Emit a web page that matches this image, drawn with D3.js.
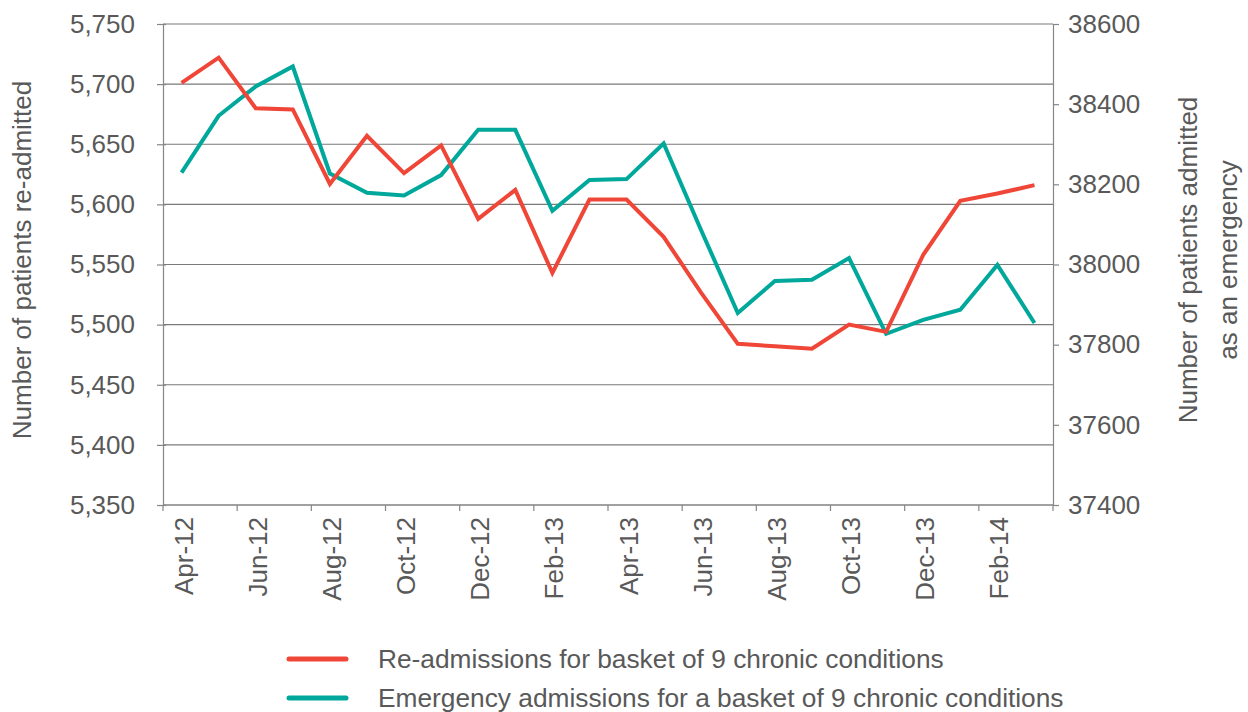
<!DOCTYPE html>
<html>
<head>
<meta charset="utf-8">
<script src="https://cdn.jsdelivr.net/npm/d3@7"></script>
<style>
  body { margin: 0; background: #fff; }
  text { font-family: "Liberation Sans", Arial, sans-serif; fill: #595959; }
</style>
</head>
<body>
<div id="chart"></div>
<script>
var months = ["Apr-12","May-12","Jun-12","Jul-12","Aug-12","Sep-12","Oct-12","Nov-12","Dec-12","Jan-13","Feb-13","Mar-13",
              "Apr-13","May-13","Jun-13","Jul-13","Aug-13","Sep-13","Oct-13","Nov-13","Dec-13","Jan-14","Feb-14","Mar-14"];
var readmissions = [5701,5722,5680,5679,5617,5657,5626,5649,5588,5612,5543,5604,
                    5604,5573,5527,5484,5482,5480,5500,5494,5558,5603,5609,5616];
var emergency = [38229,38371,38444,38494,38227,38179,38172,38223,38336,38336,38134,38211,
                 38213,38302,38088,37879,37959,37962,38016,37827,37862,37887,37999,37854];
var leftTicks = [5350,5400,5450,5500,5550,5600,5650,5700,5750];
var rightTicks = [37400,37600,37800,38000,38200,38400,38600];
var seriesNames = ["Re-admissions for basket of 9 chronic conditions",
                   "Emergency admissions for a basket of 9 chronic conditions"];
var RED = "#ef4638", TEAL = "#00a79b";
var FONT = "26px";

var W = 1248, H = 712;
var plotLeft = 163, plotRight = 1053, plotTop = 24, plotBottom = 505;

var svg = d3.select("#chart").append("svg").attr("width", W).attr("height", H);

var x = d3.scaleBand().domain(months).range([plotLeft, plotRight]);
var yL = d3.scaleLinear().domain([5350, 5750]).range([plotBottom, plotTop]);
var yR = d3.scaleLinear().domain([37400, 38600]).range([plotBottom, plotTop]);

// gridlines
svg.append("g").selectAll("line").data(leftTicks).enter().append("line")
  .attr("x1", plotLeft).attr("x2", plotRight)
  .attr("y1", function(d){ return yL(d); }).attr("y2", function(d){ return yL(d); })
  .attr("stroke", "#7a7a7a").attr("stroke-width", 1.2);

// left axis (ticks cross the axis line)
var gl = svg.append("g").attr("transform", "translate(" + plotLeft + ",0)")
  .call(d3.axisLeft(yL).tickValues(leftTicks).tickFormat(d3.format(",")).tickSize(6).tickPadding(22));
gl.selectAll(".tick line").attr("x1", 3);
// right axis
var gr = svg.append("g").attr("transform", "translate(" + plotRight + ",0)")
  .call(d3.axisRight(yR).tickValues(rightTicks).tickFormat(d3.format("d")).tickSize(6).tickPadding(9));
// bottom axis: ticks between every 2 months
var boundaries = months.filter(function(d, i){ return i % 2 == 0; });
var gb = svg.append("g").attr("transform", "translate(0," + plotBottom + ")");
gb.append("line").attr("x1", plotLeft).attr("x2", plotRight).attr("stroke", "#868686").attr("stroke-width", 1.2);
gb.selectAll("line.tk").data(boundaries.concat(["end"])).enter().append("line").attr("class", "tk")
  .attr("x1", function(d){ return d == "end" ? plotRight : x(d); })
  .attr("x2", function(d){ return d == "end" ? plotRight : x(d); })
  .attr("y1", 0).attr("y2", 6).attr("stroke", "#868686").attr("stroke-width", 1.2);
gb.selectAll("text").data(boundaries).enter().append("text")
  .attr("transform", function(d){ return "translate(" + (x(d) + x.bandwidth() / 2 + 11) + ",12) rotate(-90)"; })
  .attr("text-anchor", "end").style("font-size", FONT).text(function(d){ return d; });

[gl, gr].forEach(function(g){
  g.select(".domain").attr("stroke", "#868686").attr("stroke-width", 1.2);
  g.selectAll(".tick line").attr("stroke", "#868686").attr("stroke-width", 1.2);
  g.selectAll(".tick text").style("font-size", FONT).attr("fill", "#595959")
    .style("font-family", "Liberation Sans, Arial, sans-serif");
});

// lines
var lineL = d3.line().x(function(d, i){ return x(months[i]) + x.bandwidth() / 2; }).y(function(d){ return yL(d); });
var lineR = d3.line().x(function(d, i){ return x(months[i]) + x.bandwidth() / 2; }).y(function(d){ return yR(d); });
svg.append("path").datum(emergency).attr("d", lineR).attr("fill", "none")
  .attr("stroke", TEAL).attr("stroke-width", 4);
svg.append("path").datum(readmissions).attr("d", lineL).attr("fill", "none")
  .attr("stroke", RED).attr("stroke-width", 4);

// axis titles
svg.append("text").attr("transform", "translate(31,260) rotate(-90)")
  .attr("text-anchor", "middle").style("font-size", FONT).text("Number of patients re-admitted");
svg.append("text").attr("transform", "translate(1197,260) rotate(-90)")
  .attr("text-anchor", "middle").style("font-size", FONT).text("Number of patients admitted");
svg.append("text").attr("transform", "translate(1237,260) rotate(-90)")
  .attr("text-anchor", "middle").style("font-size", FONT).text("as an emergency");

// legend
var legend = svg.append("g").selectAll("g").data(seriesNames).enter().append("g")
  .attr("transform", function(d, i){ return "translate(0," + (659 + i * 39) + ")"; });
legend.append("line").attr("x1", 289).attr("x2", 346)
  .attr("stroke", function(d, i){ return i == 0 ? RED : TEAL; })
  .attr("stroke-width", 5).attr("stroke-linecap", "round");
legend.append("text").attr("x", 378).attr("y", 9).style("font-size", "26.3px").text(function(d){ return d; });
</script>
</body>
</html>
